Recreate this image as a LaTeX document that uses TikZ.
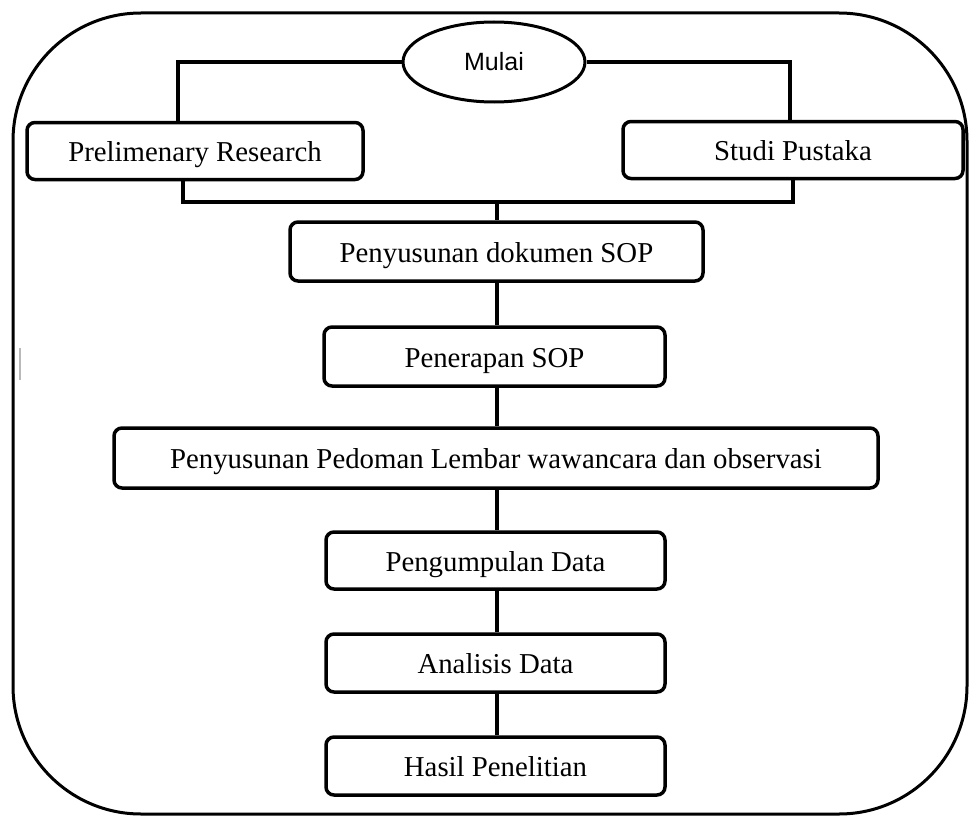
\documentclass[tikz,border=0pt]{standalone}
\usepackage{fontspec}
\setmainfont{Liberation Serif}
\newfontfamily\arialfont{Liberation Sans}
\usetikzlibrary{shapes.geometric}
\begin{document}
\begin{tikzpicture}[x=1pt,y=-1pt,
  stepbox/.style={draw, line width=3.5pt, rounded corners=8pt, inner sep=0pt,
    text height=21pt, text depth=0pt,
    font=\fontsize{28.8}{32}\selectfont},
  conn/.style={line width=3.8pt},
  frame/.style={line width=3pt, rounded corners=128pt}]
\useasboundingbox (0,0) rectangle (970,816);
\draw[frame] (13,13) rectangle (967,814);
\draw[gray!55, line width=1.5pt] (20,348) -- (20,380);

\node[draw, ellipse, line width=3pt, minimum width=182pt, minimum height=80pt, inner sep=0pt,
  font=\arialfont\fontsize{25}{28}\selectfont] (start) at (494,62) {Mulai};

\node[stepbox, minimum width=336pt, minimum height=57pt] (prelim) at (195,151) {Prelimenary Research};
\node[stepbox, minimum width=340pt, minimum height=57pt] (studi) at (793,150) {Studi Pustaka};
\node[stepbox, minimum width=413pt, minimum height=59pt] (dok) at (496.5,251.5) {Penyusunan dokumen SOP};
\node[stepbox, minimum width=341pt, minimum height=59pt] (pen) at (494.5,356.5) {Penerapan SOP};
\node[stepbox, minimum width=764pt, minimum height=60pt] (ped) at (496,458) {Penyusunan Pedoman Lembar wawancara dan observasi};
\node[stepbox, minimum width=339pt, minimum height=57pt] (kum) at (495.5,560.5) {Pengumpulan Data};
\node[stepbox, minimum width=339pt, minimum height=58pt] (ana) at (495.5,663) {Analisis Data};
\node[stepbox, minimum width=339pt, minimum height=58pt] (has) at (495.5,766) {Hasil Penelitian};

\coordinate (bar) at (0,202);
\coordinate (mid) at (497,202);

\draw[conn] (start.west) -| ([xshift=-17pt]prelim.north);
\draw[conn] (start.east) -| ([xshift=-3pt]studi.north);
\draw[conn] ([xshift=-12pt]prelim.south) |- (studi.south |- bar) -- (studi.south);
\draw[conn] (mid) -- (mid |- dok.north);
\draw[conn] (mid |- dok.south) -- (mid |- pen.north);
\draw[conn] (mid |- pen.south) -- (mid |- ped.north);
\draw[conn] (mid |- ped.south) -- (mid |- kum.north);
\draw[conn] (mid |- kum.south) -- (mid |- ana.north);
\draw[conn] (mid |- ana.south) -- (mid |- has.north);
\end{tikzpicture}
\end{document}
